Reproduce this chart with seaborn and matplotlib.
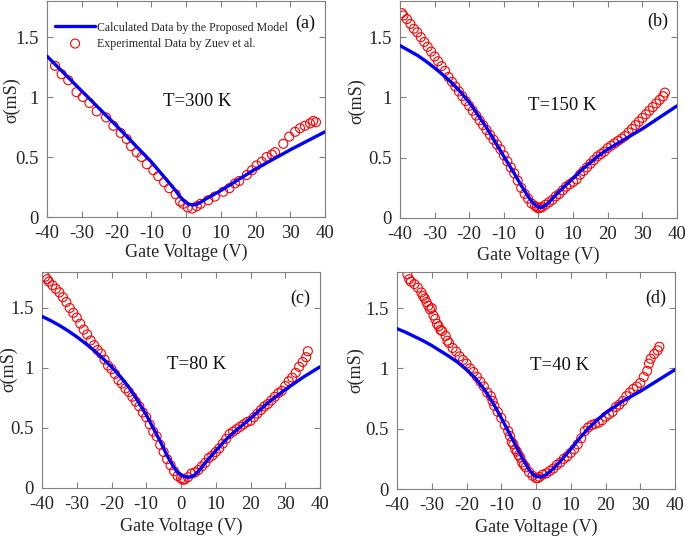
import numpy as np
import pandas as pd
import seaborn as sns
import matplotlib.pyplot as plt
from matplotlib.ticker import FixedLocator

# ---------------- data ----------------
# (a) T=300 K
a_model_v = [-40, -30, -20, -10, -5, -3, -2, -1, 0, 1, 2, 3, 4, 6, 10, 20, 30, 40]
a_model_s = [1.34, 1.05, 0.76, 0.46, 0.29, 0.22, 0.18, 0.145, 0.12, 0.105, 0.10, 0.105, 0.12,
             0.155, 0.22, 0.40, 0.56, 0.71]
a_exp_v = [-37.7, -35.8, -33.9, -31.5, -29.7, -27.8, -25.7, -23.0, -20.9, -18.8, -17.1, -15.8,
           -14.2, -12.8, -11.3, -9.4, -8.0, -6.3, -4.8, -3.0, -1.7, -0.8, 0.5, 1.8, 3.1, 4.2,
           6.4, 8.3, 10.7, 12.5, 14.1, 15.3, 17.5, 19.0, 20.3, 21.8, 23.2, 24.7, 25.6, 28.0,
           29.7, 31.4, 32.8, 34.2, 35.7, 36.6, 37.4]
a_exp_s = [1.26, 1.19, 1.14, 1.04, 1.00, 0.95, 0.88, 0.83, 0.76, 0.70, 0.65, 0.59,
           0.54, 0.50, 0.44, 0.39, 0.34, 0.29, 0.24, 0.19, 0.13, 0.11, 0.08, 0.07, 0.09, 0.11,
           0.14, 0.17, 0.21, 0.24, 0.28, 0.30, 0.35, 0.39, 0.43, 0.46, 0.50, 0.52, 0.54, 0.61,
           0.67, 0.71, 0.74, 0.76, 0.78, 0.80, 0.79]

# (b) T=150 K
b_model_v = [-40, -37.5, -35, -32.5, -30, -27.5, -25, -22.5, -20, -15, -10, -7, -5, -3, -2, -1,
             0, 0.5, 1, 2, 3, 4, 6, 8, 10, 12.5, 15, 17.5, 20, 25, 30, 35, 40]
b_model_s = [1.43, 1.39, 1.35, 1.30, 1.245, 1.185, 1.12, 1.045, 0.96, 0.75, 0.51, 0.37, 0.27,
             0.18, 0.14, 0.11, 0.09, 0.088, 0.09, 0.105, 0.13, 0.16, 0.22, 0.275, 0.33, 0.40,
             0.46, 0.52, 0.57, 0.655, 0.74, 0.835, 0.93]
b_exp_v = [-39.5, -39, -38, -37, -36, -35, -34, -33, -32, -31, -30, -29, -28, -27, -26, -25,
           -24, -23, -22, -21, -20, -19, -18, -17, -16, -15, -14, -13, -12, -11, -10, -9, -8,
           -7, -6, -5, -4, -3, -2, -1, -0.5, 0, 0.5, 1, 2, 3, 4, 5, 6, 7, 8, 9, 10, 11, 12, 13,
           14, 15, 16, 17, 18, 19, 20, 21, 22, 23, 24, 25, 26, 27, 28, 29, 30, 31, 32, 33, 34,
           35, 36, 36.5]
b_exp_s = [1.70, 1.68, 1.65, 1.61, 1.57, 1.54, 1.50, 1.46, 1.42, 1.38, 1.34, 1.30, 1.26, 1.22,
           1.17, 1.13, 1.09, 1.05, 1.01, 0.97, 0.93, 0.89, 0.85, 0.81, 0.77, 0.73, 0.69, 0.65,
           0.61, 0.57, 0.52, 0.47, 0.42, 0.37, 0.31, 0.25, 0.20, 0.16, 0.12, 0.10, 0.09, 0.08,
           0.085, 0.09, 0.11, 0.13, 0.15, 0.18, 0.20, 0.23, 0.26, 0.28, 0.30, 0.32, 0.36, 0.39,
           0.42, 0.45, 0.48, 0.51, 0.53, 0.55, 0.58, 0.60, 0.62, 0.64, 0.66, 0.68, 0.71, 0.74,
           0.77, 0.80, 0.83, 0.86, 0.89, 0.92, 0.95, 0.98, 1.01, 1.04]

# (c) T=80 K
c_model_v = [-40, -37.5, -35, -32.5, -30, -27.5, -25, -22.5, -20, -17.5, -15, -12.5, -10, -8,
             -6, -4, -2, -1, 0, 1, 2, 3, 4, 5, 7, 10, 12.5, 15, 17.5, 20, 25, 30, 35, 40]
c_model_s = [1.43, 1.395, 1.355, 1.31, 1.26, 1.205, 1.145, 1.08, 1.01, 0.93, 0.84, 0.73, 0.61,
             0.50, 0.39, 0.27, 0.17, 0.13, 0.11, 0.095, 0.09, 0.095, 0.11, 0.14, 0.21, 0.31,
             0.39, 0.46, 0.52, 0.58, 0.71, 0.82, 0.92, 1.01]
c_exp_v = [-39.1, -38.5, -38, -37, -36, -35, -34, -33, -32, -31, -30, -29, -28, -27, -26, -25,
           -24, -23, -22, -21, -20, -19, -18, -17, -16, -15, -14, -13, -12, -11, -10, -9, -8,
           -7, -6, -5, -4, -3, -2, -1, 0, 0.5, 1, 2, 3, 4, 5, 6, 7, 8, 9, 10, 11, 12, 13, 14,
           15, 16, 17, 18, 19, 20, 21, 22, 23, 24, 25, 26, 27, 28, 29, 30, 31, 32, 33, 34, 35,
           36, 36.5]
c_exp_s = [1.76, 1.74, 1.72, 1.69, 1.66, 1.63, 1.59, 1.55, 1.50, 1.46, 1.42, 1.37, 1.32, 1.28,
           1.23, 1.19, 1.15, 1.12, 1.07, 1.02, 0.99, 0.95, 0.90, 0.87, 0.83, 0.80, 0.76, 0.72,
           0.68, 0.63, 0.59, 0.53, 0.47, 0.43, 0.36, 0.30, 0.24, 0.19, 0.14, 0.10, 0.08, 0.07,
           0.07, 0.09, 0.12, 0.13, 0.15, 0.18, 0.21, 0.25, 0.27, 0.30, 0.33, 0.37, 0.41, 0.45,
           0.47, 0.49, 0.51, 0.53, 0.55, 0.56, 0.59, 0.62, 0.65, 0.68, 0.70, 0.73, 0.76, 0.79,
           0.81, 0.85, 0.89, 0.92, 0.96, 1.01, 1.05, 1.09, 1.14]

# (d) T=40 K
d_model_v = [-40, -37.5, -35, -32.5, -30, -27.5, -25, -22.5, -20, -17.5, -15, -12.5, -10, -8,
             -6, -4, -2, -1, 0, 1, 2, 3, 5, 7, 10, 12.5, 15, 17.5, 20, 25, 30, 35, 40]
d_model_s = [1.33, 1.30, 1.265, 1.23, 1.19, 1.145, 1.10, 1.05, 0.99, 0.92, 0.83, 0.72, 0.59,
             0.48, 0.37, 0.26, 0.16, 0.125, 0.105, 0.10, 0.105, 0.12, 0.17, 0.23, 0.33, 0.42,
             0.50, 0.57, 0.63, 0.73, 0.81, 0.90, 0.99]
d_exp_v = [-37, -36.5, -36, -35, -34, -33, -32.5, -32, -31.5, -31, -30.5, -30, -29.5, -29,
           -28.5, -28, -27.5, -27, -26, -25.5, -25, -24, -23, -22, -21, -20, -19, -18, -17,
           -16, -15, -14, -13, -12.5, -12, -11, -10, -9, -8, -7.5, -7, -6.5, -6, -5.5, -5,
           -4.5, -4, -3.5, -3, -2, -1, 0, 0.5, 1, 2, 3, 4, 5, 6, 7, 8, 9, 10, 11, 12, 13, 14,
           15, 16, 17, 18, 19, 20, 21, 22, 23, 24, 25, 26, 27, 28, 29, 30, 31, 32, 32.5, 33,
           34, 35, 35.5]
d_exp_s = [1.78, 1.74, 1.72, 1.70, 1.67, 1.63, 1.60, 1.58, 1.55, 1.52, 1.49, 1.50, 1.44, 1.41,
           1.37, 1.35, 1.32, 1.31, 1.27, 1.23, 1.21, 1.17, 1.14, 1.10, 1.07, 1.04, 1.00, 0.97,
           0.93, 0.89, 0.85, 0.80, 0.77, 0.73, 0.69, 0.64, 0.59, 0.53, 0.48, 0.44, 0.39, 0.37,
           0.33, 0.31, 0.28, 0.26, 0.22, 0.20, 0.18, 0.14, 0.11, 0.09, 0.09, 0.10, 0.12, 0.13,
           0.15, 0.17, 0.20, 0.22, 0.25, 0.27, 0.30, 0.33, 0.37, 0.42, 0.48, 0.51, 0.53, 0.54,
           0.55, 0.57, 0.60, 0.62, 0.64, 0.68, 0.70, 0.73, 0.77, 0.80, 0.83, 0.85, 0.88, 0.93,
           0.98, 1.04, 1.08, 1.12, 1.15, 1.18]

panel_tags = ["(a)", "(b)", "(c)", "(d)"]
temps = ["T=300 K", "T=150 K", "T=80 K", "T=40 K"]
x_ticks = [-40, -30, -20, -10, 0, 10, 20, 30, 40]
y_ticks = [0, 0.5, 1, 1.5]
y_ticklabels = ["0", "0.5", "1", "1.5"]
legend_labels = ["Calculated Data by the Proposed Model", "Experimental Data by Zuev et al."]

# ---------------- style ----------------
sns.set_style("ticks")
plt.rcParams['font.family'] = ['Liberation Serif', 'DejaVu Serif']
plt.rcParams['axes.edgecolor'] = '#808080'
plt.rcParams['xtick.color'] = '#808080'
plt.rcParams['ytick.color'] = '#808080'
plt.rcParams['xtick.labelcolor'] = '#262626'
plt.rcParams['ytick.labelcolor'] = '#262626'

fig = plt.figure(figsize=(6.85, 5.38), dpi=100)
W, H = 685, 538
# axes boxes in pixels: left, top, right, bottom
boxes = [(47, 1, 325, 217), (400, 1, 677, 218), (42, 272, 320, 488), (397, 272, 675, 489)]

models = [(a_model_v, a_model_s), (b_model_v, b_model_s), (c_model_v, c_model_s), (d_model_v, d_model_s)]
exps = [(a_exp_v, a_exp_s), (b_exp_v, b_exp_s), (c_exp_v, c_exp_s), (d_exp_v, d_exp_s)]
tag_pos = [(0.93, 0.895), (0.93, 0.905), (0.93, 0.88), (0.93, 0.88)]
temp_pos = [(0.54, 0.535), (0.585, 0.52), (0.555, 0.57), (0.585, 0.57)]
ylabel_pos = [(-0.097, 0.54), (-0.126, 0.54), (-0.09, 0.55), (-0.119, 0.55)]
xlabel_y = [-0.125, -0.134, -0.139, -0.138]

for i in range(4):
    l, t, r, b = boxes[i]
    ax = fig.add_axes([l / W, 1 - b / H, (r - l) / W, (b - t) / H])
    mdf = pd.DataFrame({"V": models[i][0], "S": models[i][1]})
    edf = pd.DataFrame({"V": exps[i][0], "S": exps[i][1]})
    sns.lineplot(data=mdf, x="V", y="S", ax=ax, color="#0000ff", linewidth=2.4,
                 label=legend_labels[0], zorder=3)
    sns.scatterplot(data=edf, x="V", y="S", ax=ax, marker="o", s=42,
                    facecolor="none", edgecolor="#ff0000", linewidth=0.8,
                    label=legend_labels[1], zorder=2)
    ax.set_xlim(-40, 40)
    ax.set_ylim(0, 1.8)
    ax.xaxis.set_major_locator(FixedLocator(x_ticks))
    ax.set_xticklabels([str(v) for v in x_ticks])
    ax.yaxis.set_major_locator(FixedLocator(y_ticks))
    ax.set_yticklabels(y_ticklabels)
    ax.tick_params(direction="in", length=4, width=0.8, top=True, right=True,
                   labelsize=13.5)
    ax.tick_params(axis="x", pad=6)
    ax.tick_params(axis="y", pad=6)
    for sp in ax.spines.values():
        sp.set_visible(True)
        sp.set_linewidth(0.8)
        sp.set_color('#808080')
    ax.set_xlabel("Gate Voltage (V)", fontsize=13, color='#262626')
    ax.set_ylabel("σ(mS)", fontsize=13, color='#262626')
    ax.xaxis.set_label_coords(0.5, xlabel_y[i])
    ax.yaxis.set_label_coords(ylabel_pos[i][0], ylabel_pos[i][1])
    ax.text(tag_pos[i][0], tag_pos[i][1], panel_tags[i], transform=ax.transAxes,
            fontsize=13, ha="center", va="center", color='#111111')
    ax.text(temp_pos[i][0], temp_pos[i][1], temps[i], transform=ax.transAxes,
            fontsize=13.5, ha="center", va="center", color='#111111')
    if i == 0:
        ax.legend(loc="upper left", bbox_to_anchor=(0.03, 0.905), frameon=False,
                  fontsize=8.6, handlelength=3.3, handletextpad=0.15,
                  labelspacing=0.35, borderaxespad=0, borderpad=0)
    else:
        ax.get_legend().remove()

fig.savefig("out.png", dpi=100)
